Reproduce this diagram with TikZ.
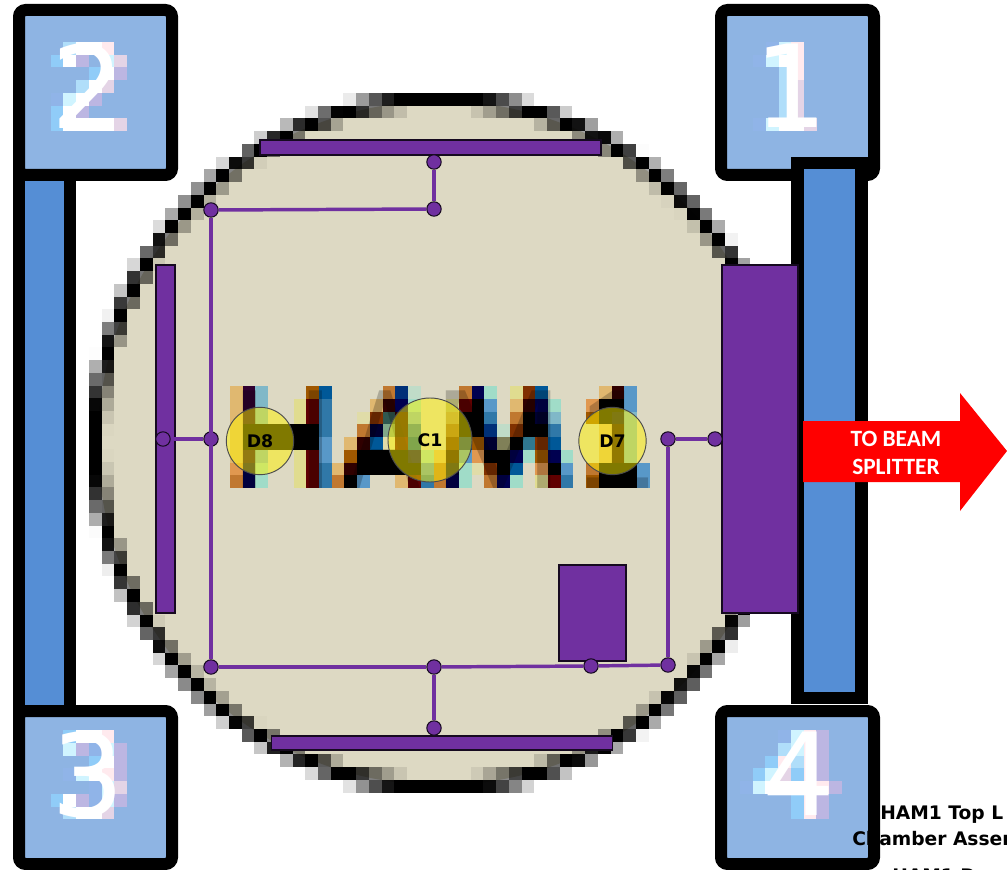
\documentclass[tikz,border=0pt]{standalone}
\usepackage{fontspec}
\usepackage{xcolor}
\setmainfont{DejaVu Sans}
\newfontfamily\lblfont{DejaVu Sans}
\newfontfamily\arwfont{Carlito}
\newfontfamily\hamfont{Liberation Sans}
\definecolor{plate}{HTML}{7030A0}
\definecolor{tablebg}{HTML}{DDD9C3}
\definecolor{tubebg}{HTML}{558ED5}
\definecolor{badgebg}{HTML}{8EB4E3}
\definecolor{hma}{HTML}{E0B870}
\definecolor{hmb}{HTML}{300030}
\definecolor{hmc}{HTML}{80B8C8}
\definecolor{hmd}{HTML}{E09850}
\definecolor{hme}{HTML}{C07830}
\definecolor{hmf}{HTML}{000050}
\definecolor{hmg}{HTML}{A0DCC8}
\definecolor{hmh}{HTML}{307890}
\definecolor{hmi}{HTML}{305850}
\definecolor{hmj}{HTML}{80A888}
\definecolor{hmk}{HTML}{000000}
\definecolor{hml}{HTML}{5898C8}
\definecolor{hmm}{HTML}{C0DCC8}
\definecolor{hmn}{HTML}{003078}
\definecolor{hmo}{HTML}{A05800}
\definecolor{hmp}{HTML}{E0DC90}
\definecolor{hmq}{HTML}{E0DCA8}
\definecolor{hmr}{HTML}{600000}
\definecolor{hms}{HTML}{3078A8}
\definecolor{hmt}{HTML}{300000}
\definecolor{hmu}{HTML}{005898}
\definecolor{hmv}{HTML}{000030}
\definecolor{hmw}{HTML}{803000}
\definecolor{hmy}{HTML}{808058}
\definecolor{hmz}{HTML}{DDD9C3}
\definecolor{dgA}{HTML}{B0DEFA}
\definecolor{dgB}{HTML}{8EB4E3}
\definecolor{dgC}{HTML}{D0F4FF}
\definecolor{dgL}{HTML}{90CCF8}
\definecolor{dgN}{HTML}{90B4E8}
\definecolor{dgP}{HTML}{FFEAEE}
\definecolor{dgR}{HTML}{E4D4E6}
\definecolor{dgV}{HTML}{BCB6E2}
\definecolor{dgW}{HTML}{FFFFFF}
\newcommand{\pixgrid}[4]{%
  \foreach \col [count=\k from 0] in {#4} {
    \foreach \c [count=\r from 0] in \col {
      \fill[#3\c] (#1+12.72*\k,#2+12.75*\r) rectangle ++(12.9,12.95);
    }
  }
}
\begin{document}
\begin{tikzpicture}[
  x=0.75pt, y=-0.75pt,
  badge/.style={draw=black, line width=9pt, fill=badgebg, rounded corners=5pt, inner sep=0pt, minimum width=114.75pt, minimum height=123.75pt},
  badgelow/.style={badge, minimum height=114.75pt},
  digit/.style={text=white, inner sep=0pt, font=\lblfont\fontsize{86}{86}\selectfont},
  tube/.style={draw=black, line width=9.5pt, fill=tubebg},
  plt/.style={draw=black!80!plate, line width=0.8pt, fill=plate, inner sep=0pt},
  dot/.style={circle, draw=black!80!plate, line width=0.8pt, fill=plate, inner sep=0pt, minimum size=10.8pt},
  wire/.style={draw=plate, line width=2.6pt},
  det/.style={circle, draw=black!70, line width=0.7pt, fill=yellow, fill opacity=0.5, text opacity=1, inner sep=0pt, font=\lblfont\bfseries\fontsize{13}{13}\selectfont},
  note/.style={inner sep=0pt, anchor=base west, font=\lblfont\bfseries\fontsize{14}{14}\selectfont}
]
  \useasboundingbox (0,0) rectangle (1007,870);
  \clip (0,0) rectangle (1007,870);

  % beam tube on the left
  \draw[tube] (19,170) rectangle (70,711);

  % chamber table and its blocky rim
  \fill[tablebg] (440,443) circle (342);
  \foreach \i in {6,...,63} {
    \foreach \j in {6,...,62} {
      \pgfmathsetmacro{\shade}{max(0,min(1,1.25*(1-abs(veclen(12.72*\i+6.36-440,4+12.72*\j+6.36-443)-344)/12)))}
      \fill[black, opacity=\shade] (12.72*\i,4+12.72*\j) rectangle ++(12.72,12.72);
    }
  }

  % chamber ports
  \node[badge] (port2) at (95.5,92.5) {};
  \node[badge] (port1) at (797.5,92.5) {};
  \node[badgelow] (port3) at (95.5,787.5) {};
  \node[badgelow] (port4) at (797.5,787.5) {};
  \pixgrid{50.7}{42}{dg}{{B,L,B,B,N,L,L},{A,W,B,B,C,W,W},{W,V,B,A,W,V,W},{W,B,L,W,V,B,W},{P,C,W,R,B,B,W},{B,R,V,B,B,B,R}}
  \pixgrid{753.3}{42}{dg}{{B,N,B,B,B,B,N},{N,C,B,B,B,B,C},{C,W,A,A,A,A,W},{P,P,P,R,R,R,W},{B,B,B,B,B,B,R}}
  \pixgrid{50.7}{730}{dg}{{B,B,B,B,B,L,B},{L,C,B,N,B,W,A},{W,V,B,C,B,V,W},{W,N,L,W,N,N,W},{P,C,W,P,C,C,R},{B,V,V,V,R,V,B}}
  \pixgrid{740}{730}{dg}{{B,B,B,B,N,B,B},{B,B,B,L,C,B,B},{B,B,L,C,W,B,B},{N,A,P,R,W,B,B},{C,C,A,L,W,L,L},{P,P,P,P,W,P,P},{V,V,V,V,P,V,V},{B,B,B,B,V,B,B}}
  \node[digit] (num2) at (88,86) {2};
  \node[digit] (num1) at (791,86) {1};
  \node[digit] (num3) at (88,775) {3};
  \node[digit] (num4) at (799,774) {4};

  % beam tube on the right lies over port 1
  \draw[tube] (797.5,163) rectangle (861.5,698);

  % HAM1 title
  \pixgrid{230}{386}{hm}{
    {a,a,a,a,a,a,d,e},{b,b,b,k,k,b,f,f},{c,c,c,k,k,c,g,g},{z,z,z,k,k,z,z,z},
    {z,z,z,k,k,z,z,z},{z,p,p,k,k,p,p,p},{o,r,r,k,k,r,r,r},{u,s,s,s,l,l,s,s},
    {z,z,z,z,z,z,a,e},{z,z,z,z,a,o,t,k},{z,z,q,e,t,k,k,l},{z,a,w,v,u,k,k,z},
    {e,t,i,j,q,k,k,z},{n,f,t,t,r,k,k,a},{m,g,c,s,u,f,k,r},{z,z,z,z,z,g,l,s},
    {z,z,z,z,z,a,e,e},{z,p,a,e,w,t,v,f},{e,r,k,k,n,l,g,g},{f,k,k,k,o,d,q,z},
    {g,l,s,n,v,k,w,e},{z,z,z,m,y,k,k,f},{p,a,e,w,k,f,u,g},{w,t,k,k,h,g,z,z},
    {u,f,v,k,w,o,d,p},{z,g,c,s,u,f,k,r},{z,z,z,z,z,g,l,s},{z,z,z,z,z,z,z,z},
    {z,d,o,z,z,z,e,o},{a,k,k,a,a,a,k,k},{t,k,v,t,t,t,k,k},{l,l,c,c,c,c,k,k},
    {z,z,z,z,z,z,l,l}}
  \node[inner sep=0pt, anchor=base west, text opacity=0.22, font=\hamfont\fontsize{106.5}{106.5}\selectfont] (title) at (231,488)
    {H\kern12pt\scalebox{.75}[1]{A}\kern9.75pt\scalebox{1.1}[1]{M}\kern9.75pt 1};

  % optics plates
  \node[plt, minimum width=255.75pt, minimum height=11.25pt] (ptop) at (430.5,147.5) {};
  \node[plt, minimum width=255.75pt, minimum height=10.5pt] (pbot) at (442,743) {};
  \node[plt, minimum width=14.25pt, minimum height=261pt] (pleft) at (165.5,439) {};
  \node[plt, minimum width=57pt, minimum height=261pt] (pright) at (760,439) {};
  \node[plt, minimum width=50.25pt, minimum height=72pt] (psmall) at (592.5,613) {};

  % junctions
  \node[dot] (jtop) at (434,162) {};
  \node[dot] (jtopb) at (434,209) {};
  \node[dot] (jtl) at (211,210) {};
  \node[dot] (jleft) at (163,439) {};
  \node[dot] (jmid) at (211,439) {};
  \node[dot] (jbl) at (211,667) {};
  \node[dot] (jbm) at (434,667) {};
  \node[dot] (jsmall) at (591,666) {};
  \node[dot] (jbr) at (668,665) {};
  \node[dot] (jd7) at (668,439) {};
  \node[dot] (jright) at (715,439) {};
  \node[dot] (jbot) at (434,728) {};

  \draw[wire] (jtop) -- (jtopb);
  \draw[wire] (jtopb) -- (jtl);
  \draw[wire] (jtl) -- (jbl);
  \draw[wire] (jleft) -- (jmid);
  \draw[wire] (jbl) -- (jbm);
  \draw[wire] (jbm) -- (jsmall);
  \draw[wire] (jsmall) -- (jbr);
  \draw[wire] (jbr) -- (jd7);
  \draw[wire] (jd7) -- (jright);
  \draw[wire] (jbm) -- (jbot);

  % detectors
  \node[det, minimum size=50.5pt] (d8) at (260,441) {D8};
  \node[det, minimum size=63pt] (c1) at (430,440) {C1};
  \node[det, minimum size=50.5pt] (d7) at (612.5,441) {D7};

  % output arrow
  \fill[red] (803,421) -- (960,421) -- (960,393) -- (1007,451) -- (960,511) -- (960,482) -- (803,482) -- cycle;
  \node[align=center, text=white, inner sep=0pt, font=\arwfont\bfseries\fontsize{17.5}{21}\selectfont] (beam) at (896,453) {TO BEAM\\SPLITTER};

  % caption, cut by the page edge
  \node[note] (cap1) at (880,819) {HAM1 Top L};
  \node[note] (cap2) at (852,845) {Chamber Assem};
  \node[note] (cap3) at (892,882) {HAM1 D};
\end{tikzpicture}
\end{document}
